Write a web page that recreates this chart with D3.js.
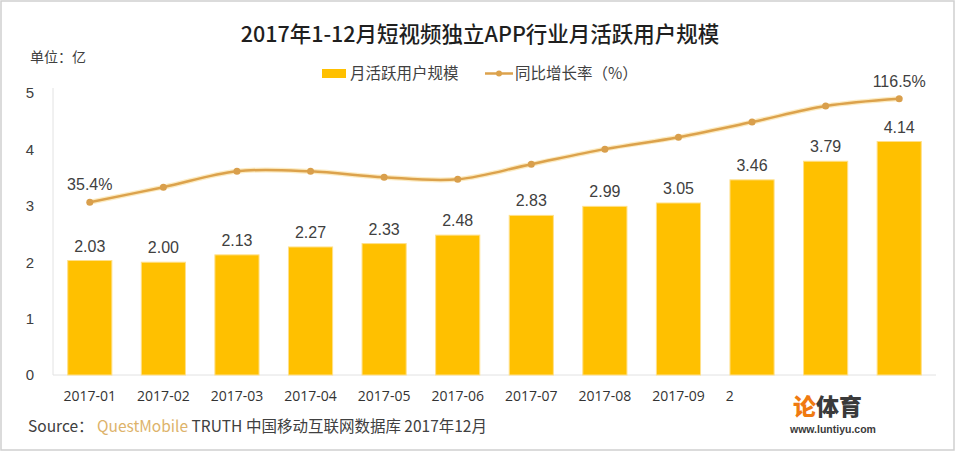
<!DOCTYPE html>
<html>
<head>
<meta charset="utf-8">
<script src="https://cdn.jsdelivr.net/npm/d3@7/dist/d3.min.js"></script>
<style>
  html, body { margin: 0; padding: 0; background: #fff; }
  svg { display: block; }
</style>
</head>
<body>
<svg id="chart" width="960" height="452"></svg>
<script>
// ---- data ----
const months = ["2017-01","2017-02","2017-03","2017-04","2017-05","2017-06","2017-07","2017-08","2017-09","2017-10","2017-11","2017-12"];
const tickLabels = ["2017-01","2017-02","2017-03","2017-04","2017-05","2017-06","2017-07","2017-08","2017-09","2","",""];
const mau = [2.03, 2.00, 2.13, 2.27, 2.33, 2.48, 2.83, 2.99, 3.05, 3.46, 3.79, 4.14];
const growth = [35.4, 47.2, 59.7, 59.6, 55.0, 53.4, 65.2, 77.0, 86.4, 98.2, 110.8, 116.5];
const growthLabels = ["35.4%", "", "", "", "", "", "", "", "", "", "", "116.5%"];
const yTicks = [0, 1, 2, 3, 4, 5];

(function () {
const svg = d3.select("#chart");
const plotL = 53, plotR = 936, plotT = 93, plotB = 375;

const cjk = "'Noto Sans CJK SC', 'Noto Sans', sans-serif";
const latin = "'Liberation Sans', Arial, sans-serif";
const tickFont = "'Open Sans', sans-serif";

// frame
svg.append("rect").attr("x", 1).attr("y", 1).attr("width", 953).attr("height", 449)
  .attr("fill", "#fff").attr("stroke", "#cfcfcf").attr("stroke-width", 1.5);

const x = d3.scaleBand().domain(months).range([plotL, plotR]).paddingInner(0.4).paddingOuter(0.2);
const y = d3.scaleLinear().domain([0, 5]).range([plotB, plotT]);
const y2 = d3.scaleLinear().domain([-100, 121]).range([plotB, plotT]);

// title
svg.append("text").attr("x", 480).attr("y", 42).attr("text-anchor", "middle")
  .attr("font-family", cjk).attr("font-size", 21.5).attr("font-weight", 500).attr("fill", "#1f1f1f")
  .text("2017年1-12月短视频独立APP行业月活跃用户规模");

// unit
svg.append("text").attr("x", 30).attr("y", 62)
  .attr("font-family", cjk).attr("font-size", 14).attr("fill", "#404040")
  .text("单位：亿");

// legend
const lg = svg.append("g");
lg.append("rect").attr("x", 322).attr("y", 69).attr("width", 24).attr("height", 9).attr("fill", "#FFC000");
lg.append("text").attr("x", 350).attr("y", 79).attr("font-family", cjk).attr("font-size", 15.5).attr("fill", "#404040").text("月活跃用户规模");
lg.append("line").attr("x1", 485).attr("x2", 513).attr("y1", 73.5).attr("y2", 73.5).attr("stroke", "#DCA24C").attr("stroke-width", 2.5);
lg.append("circle").attr("cx", 499).attr("cy", 73.5).attr("r", 3).attr("fill", "#DCA24C");
lg.append("text").attr("x", 515).attr("y", 79).attr("font-family", cjk).attr("font-size", 15.5).attr("fill", "#404040").text("同比增长率（%）");

// axes
const yAxis = d3.axisLeft(y).tickValues(yTicks).tickSize(0).tickPadding(0).tickFormat(d3.format("d"));
const gy = svg.append("g").attr("transform", `translate(${plotL},0)`).call(yAxis);
gy.select(".domain").attr("stroke", "#e2e2e2").attr("d", `M0,${plotT - 5}V${plotB}`);
gy.selectAll("text").attr("x", -23).attr("text-anchor", "middle").attr("font-family", latin)
  .attr("font-size", 15).attr("fill", "#404040");

const xAxis = d3.axisBottom(x).tickSize(0).tickPadding(0).tickFormat((d, i) => tickLabels[i]);
const gx = svg.append("g").attr("transform", `translate(0,${plotB})`).call(xAxis);
gx.select(".domain").attr("stroke", "#e2e2e2").attr("d", `M${plotL},0H${plotR}`);
// measure full month label width so a truncated label starts where the full one would
const probe = svg.append("text").attr("font-family", tickFont).attr("font-size", 14).text(months[0]);
const fullW = probe.node().getComputedTextLength();
probe.remove();
gx.selectAll("text").attr("y", 16).attr("dy", "0.71em").attr("font-family", tickFont)
  .attr("font-size", 14).attr("fill", "#333")
  .attr("text-anchor", "start").attr("x", -fullW / 2);

// bars
svg.append("g").selectAll("rect").data(months).join("rect")
  .attr("x", d => x(d)).attr("width", x.bandwidth())
  .attr("y", (d, i) => y(mau[i])).attr("height", (d, i) => y(0) - y(mau[i]))
  .attr("fill", "#FFC000").attr("stroke", "#FFE08A").attr("stroke-width", 1);

svg.append("g").selectAll("text").data(months).join("text")
  .attr("x", d => x(d) + x.bandwidth() / 2).attr("y", (d, i) => y(mau[i]) - 9)
  .attr("text-anchor", "middle").attr("font-family", latin).attr("font-size", 16).attr("fill", "#404040")
  .text((d, i) => mau[i].toFixed(2));

// line
const line = d3.line().x((d, i) => x(months[i]) + x.bandwidth() / 2).y(d => y2(d)).curve(d3.curveCatmullRom.alpha(0.5));
svg.append("path").datum(growth).attr("d", line).attr("fill", "none").attr("stroke", "#FBE3A6").attr("stroke-width", 5).attr("stroke-opacity", 0.7);
svg.append("path").datum(growth).attr("d", line).attr("fill", "none").attr("stroke", "#DCA24C").attr("stroke-width", 2.5);
svg.append("g").selectAll("circle").data(growth).join("circle")
  .attr("cx", (d, i) => x(months[i]) + x.bandwidth() / 2).attr("cy", d => y2(d)).attr("r", 3.5)
  .attr("fill", "#D99F4C");
svg.append("g").selectAll("text").data(growth).join("text")
  .attr("x", (d, i) => x(months[i]) + x.bandwidth() / 2).attr("y", d => y2(d) - 12)
  .attr("text-anchor", "middle").attr("font-family", latin).attr("font-size", 16).attr("fill", "#404040")
  .text((d, i) => growthLabels[i]);

// source
const src = svg.append("text").attr("x", 28).attr("y", 432).attr("font-family", cjk).attr("font-size", 15.5).attr("fill", "#404040");
src.append("tspan").text("Source：  ");
src.append("tspan").attr("fill", "#DDB36B").text("QuestMobile");
src.append("tspan").text(" TRUTH 中国移动互联网数据库 2017年12月");

// watermark
const wm = svg.append("g");
const wt = wm.append("text").attr("x", 793).attr("y", 415).attr("font-family", cjk).attr("font-size", 23).attr("font-weight", 900);
wt.append("tspan").attr("fill", "#F07A10").text("论");
wt.append("tspan").attr("fill", "#3a3a3a").text("体育");
wm.append("text").attr("x", 790).attr("y", 433).attr("font-family", latin).attr("font-size", 10.5).attr("font-weight", 700)
  .attr("fill", "#3a3a3a").text("www.luntiyu.com");
})();
</script>
</body>
</html>
